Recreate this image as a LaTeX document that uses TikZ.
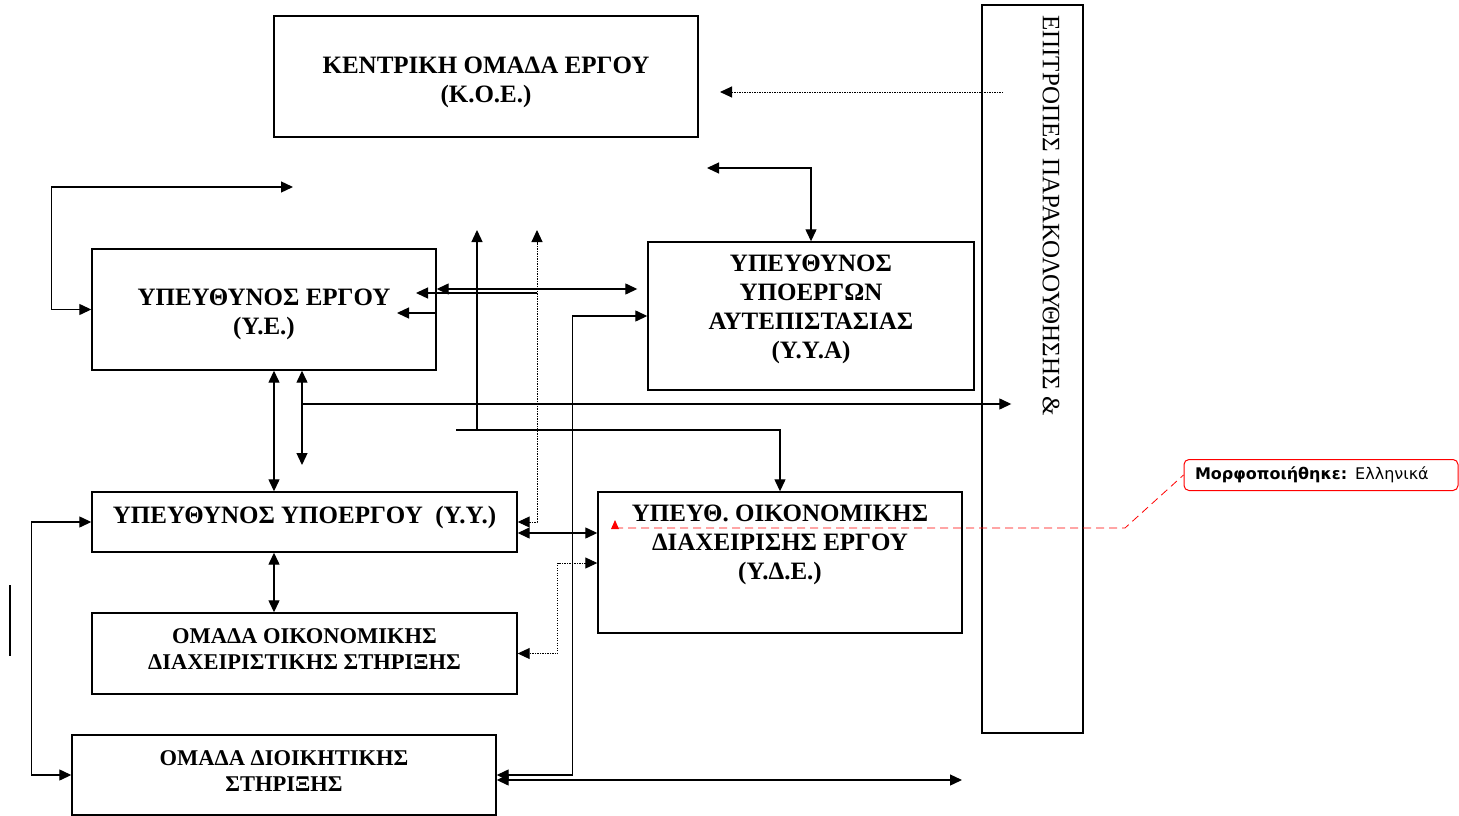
\documentclass[tikz,border=0pt]{standalone}
\usepackage{fontspec}
\setmainfont{Liberation Serif}
\newfontfamily\notefont{DejaVu Sans}
\usetikzlibrary{arrows.meta}

\tikzset{
  box/.style = {draw, line width=1.4pt, inner sep=0pt},
  boxtext/.style = {align=center, font=\fontsize{25}{29}\selectfont\bfseries, inner sep=0pt},
  smalltext/.style = {boxtext, font=\fontsize{22.5}{26}\selectfont\bfseries},
  line/.style = {line width=1.3pt},
  arr/.style = {line, -{Triangle[length=12pt,width=11pt]}},
  both/.style = {line, {Triangle[length=12pt,width=11pt]}-{Triangle[length=12pt,width=11pt]}},
  dots/.style = {line width=1pt, dash pattern=on 1.2pt off 1.3pt},
  note/.style = {draw=red, line width=1pt, rounded corners=5pt, text width=252pt, align=left,
                 inner xsep=11pt, minimum height=31pt, font=\notefont\fontsize{16}{18}\selectfont}
}

\begin{document}
\begin{tikzpicture}[x=1pt, y=-1pt]
	\useasboundingbox (0,0) rectangle (1459,816);
	% boxes
	\node[box, minimum width=424pt, minimum height=121pt] (koe) at (486,76.5) {};
	\node[boxtext] (koe-t) at (486,82) {ΚΕΝΤΡΙΚΗ ΟΜΑΔΑ ΕΡΓΟΥ\\(Κ.Ο.Ε.)};
	\node[box, minimum width=101pt, minimum height=728pt] (epit) at (1032.5,369) {};
	\node[rotate=-90, anchor=west, inner sep=0pt, font=\fontsize{25}{29}\selectfont] (epit-t) at (1051,15) {ΕΠΙΤΡΟΠΕΣ ΠΑΡΑΚΟΛΟΥΘΗΣΗΣ \&};
	\node[box, minimum width=344pt, minimum height=121pt] (ye) at (264,309.5) {};
	\node[boxtext] (ye-t) at (264,314) {ΥΠΕΥΘΥΝΟΣ ΕΡΓΟΥ\\(Υ.Ε.)};
	\node[box, minimum width=326pt, minimum height=148pt] (yya) at (811,316) {};
	\node[boxtext] (yya-t) at (811,309) {ΥΠΕΥΘΥΝΟΣ\\ΥΠΟΕΡΓΩΝ\\ΑΥΤΕΠΙΣΤΑΣΙΑΣ\\(Υ.Υ.Α)};
	\node[box, minimum width=425pt, minimum height=60pt] (yy) at (304.5,522) {};
	\node[boxtext] (yy-t) at (304.5,517) {ΥΠΕΥΘΥΝΟΣ ΥΠΟΕΡΓΟΥ\ \ (Υ.Υ.)};
	\node[box, minimum width=364pt, minimum height=141pt] (yde) at (780,562.5) {};
	\node[boxtext] (yde-t) at (780,545) {ΥΠΕΥΘ. ΟΙΚΟΝΟΜΙΚΗΣ\\ΔΙΑΧΕΙΡΙΣΗΣ ΕΡΓΟΥ\\(Υ.Δ.Ε.)};
	\node[box, minimum width=425pt, minimum height=81pt] (ood) at (304.5,653.5) {};
	\node[smalltext] (ood-t) at (304.5,649) {ΟΜΑΔΑ ΟΙΚΟΝΟΜΙΚΗΣ\\ΔΙΑΧΕΙΡΙΣΤΙΚΗΣ ΣΤΗΡΙΞΗΣ};
	\node[box, minimum width=424pt, minimum height=80pt] (ods) at (284,775) {};
	\node[smalltext] (ods-t) at (284,771) {ΟΜΑΔΑ ΔΙΟΙΚΗΤΙΚΗΣ\\ΣΤΗΡΙΞΗΣ};
	% free ends
	\coordinate (loopend) at (293,187);
	\coordinate (koein) at (720,92);
	\coordinate (koeout) at (1003,92);
	\coordinate (yyaup) at (707,168);
	\coordinate (up1) at (477,230);
	\coordinate (up2) at (537,230);
	\coordinate (bar) at (456,430);
	\coordinate (yedown) at (302,465);
	\coordinate (bottomend) at (962,780);
	% connectors
	\draw[both] (ye.west) -| ([xshift=-40pt]ye.west |- loopend) -- (loopend);
	\draw[dots, -{Triangle[length=12pt,width=11pt]}] (koeout) -- (koein);
	\draw[both] (yya.north) |- (yyaup);
	\draw[arr] (bar) -| (yde.north);
	\draw[arr] (up1 |- bar) -- (up1);
	\draw[dots, {Triangle[length=12pt,width=11pt]}-{Triangle[length=12pt,width=11pt]}] (yy.east) -| (up2);
	\draw[arr] (up2 |- 0,293) -- (416,293);
	\draw[both] (ye.east |- 0,289) -- ([xshift=-10pt]yya.west |- 0,289);
	\draw[arr] (ye.east |- 0,313) -- (397,313);
	\draw[both] (yya.west |- 0,316) -| ([xshift=76pt]ods.east) -- (ods.east);
	\draw[both] (ods.east |- bottomend) -- (bottomend);
	\draw[both] (ye.south -| 274,0) -- (yy.north -| 274,0);
	\draw[both] (ye.south -| yedown) -- (yedown);
	\draw[arr] (yedown |- 0,404) -- ([xshift=30pt]epit.west |- 0,404);
	\draw[both] (yy.south -| 274,0) -- (ood.north -| 274,0);
	\draw[both] (yy.west) -| ([xshift=-40pt]ods.west) -- (ods.west);
	\draw[both] (yy.east |- 0,533) -- (yde.west |- 0,533);
	\draw[dots, {Triangle[length=12pt,width=11pt]}-{Triangle[length=12pt,width=11pt]}] (yde.west |- 0,563) -| ([xshift=40pt]ood.east) -- (ood.east);
	\draw[line width=2pt] (10,585) -- (10,656);
	% change note
	\node[note] (morph) at (1321,475) {\textbf{Μορφοποιήθηκε:} Ελληνικά};
	\draw[red, line width=0.8pt, dash pattern=on 8pt off 5pt] (615,528) -- (1125,528) -- (morph.west);
	\fill[red] (611,529) -- (619,529) -- (615,520) -- cycle;
\end{tikzpicture}
\end{document}
